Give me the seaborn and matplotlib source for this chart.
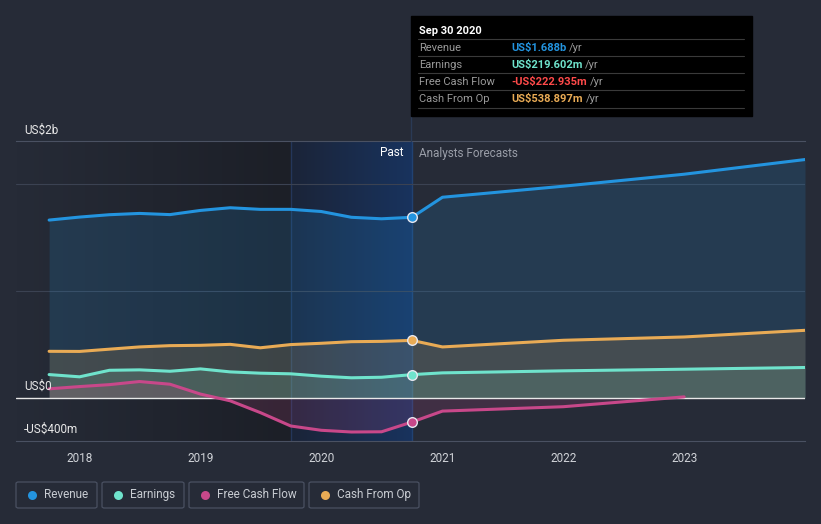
import numpy as np
import pandas as pd
import seaborn as sns
import matplotlib.pyplot as plt
import matplotlib.dates as mdates
from matplotlib.patches import Rectangle, FancyBboxPatch
from matplotlib.lines import Line2D

# data (US$m), quarterly past + annual analyst forecasts
past_dates = ["2017-09-30", "2017-12-31", "2018-03-31", "2018-06-30", "2018-09-30",
              "2018-12-31", "2019-03-31", "2019-06-30", "2019-09-30", "2019-12-31",
              "2020-03-31", "2020-06-30", "2020-09-30"]
fcst_dates = ["2020-12-31", "2021-12-31", "2022-12-31", "2023-12-31"]

revenue_past = [1662, 1690, 1712, 1724, 1713, 1752, 1777, 1762, 1762, 1742, 1688, 1674, 1688]
revenue_fcst = [1875, 1978, 2090, 2227]
earnings_past = [220, 199, 260, 264, 251, 273, 245, 233, 227, 205, 190, 195, 219.6]
earnings_fcst = [236, 255, 270, 286]
fcf_past = [87, 108, 126, 155, 130, 38, -25, -135, -260, -300, -316, -314, -222.9]
fcf_fcst = [-121, -80, 12]
cfo_past = [437, 436, 457, 478, 490, 493, 502, 470, 500, 512, 527, 530, 538.9]
cfo_fcst = [478, 540, 571, 633]

series_names = ["Revenue", "Earnings", "Free Cash Flow", "Cash From Op"]
series_colors = ["#2394df", "#6fe3cc", "#c8488a", "#e9ab55"]
tooltip_values = ["US$1.688b", "US$219.602m", "-US$222.935m", "US$538.897m"]
tooltip_colors = ["#2394df", "#6fe3cc", "#ff4a4a", "#e9ab55"]

past = [revenue_past, earnings_past, fcf_past, cfo_past]
fcst = [revenue_fcst, earnings_fcst, fcf_fcst, cfo_fcst]

rows = []
for name, p, f in zip(series_names, past, fcst):
    dates = past_dates + fcst_dates[:len(f)]
    for d, v in zip(dates, p + f):
        rows.append({"series": name, "date": pd.Timestamp(d), "value": v})
df = pd.DataFrame(rows)

BG = "#262b37"
sns.set_style("dark", {"axes.facecolor": BG, "figure.facecolor": BG})
plt.rcParams["font.family"] = ["Roboto", "DejaVu Sans"]

W, H = 821, 524
fig = plt.figure(figsize=(W / 100, H / 100), dpi=100)
ax = fig.add_axes([16 / W, 83 / H, 789 / W, 300 / H])
ax.set_facecolor(BG)

def fx(px):
    return px / W

def fy(py):
    return 1 - py / H

x_left = mdates.date2num(pd.Timestamp("2017-06-22"))
x_right = mdates.date2num(pd.Timestamp("2023-12-31"))
x_hl = mdates.date2num(pd.Timestamp("2019-09-30"))
x_now = mdates.date2num(pd.Timestamp("2020-09-30"))

# background gradients for the past
g1 = np.linspace(0, 1, 200)
c_a, c_b = np.array([0x26, 0x2b, 0x37]) / 255, np.array([0x1c, 0x1f, 0x27]) / 255
grad1 = (c_a[None, :] * (1 - g1[:, None]) + c_b[None, :] * g1[:, None])[None, :, :]
ax.imshow(grad1, extent=[x_left, x_hl, -400, 2400], aspect="auto", zorder=0.5,
          interpolation="nearest")
c_c, c_d = np.array([0x1b, 0x24, 0x38]) / 255, np.array([0x18, 0x33, 0x5e]) / 255
grad2 = (c_c[None, :] * (1 - g1[:, None]) + c_d[None, :] * g1[:, None])[None, :, :]
ax.imshow(grad2, extent=[x_hl, x_now, -400, 2400], aspect="auto", zorder=0.5,
          interpolation="nearest")
ax.axvline(x_hl, color="#24365a", lw=1, zorder=0.6)
ax.axvline(x_now, color="#214272", lw=1, zorder=0.6)

for name, col in zip(series_names, series_colors):
    s = df[df["series"] == name]
    ax.fill_between(s["date"], s["value"], 0, color=col, alpha=0.16, lw=0, zorder=1)

ax.axhline(1000, color="#3b4252", lw=0.8, zorder=0.8)
ax.axhline(2000, color="#3b4252", lw=0.8, zorder=0.8)
ax.axhline(0, color="#e8e8e8", lw=1.0, zorder=2)

sns.lineplot(data=df, x="date", y="value", hue="series", hue_order=series_names,
             palette=series_colors, linewidth=2.2, legend=False, ax=ax, zorder=3)

now_vals = [revenue_past[-1], earnings_past[-1], fcf_past[-1], cfo_past[-1]]
for v, col in zip(now_vals, series_colors):
    ax.scatter([x_now], [v], s=48, color=col, edgecolor="#e8e8f0", linewidth=1, zorder=4)

ax.set_xlim(x_left, x_right)
ax.set_ylim(-400, 2400)
ax.set_xlabel("")
ax.set_ylabel("")
ax.set_yticks([])
ax.xaxis.set_major_locator(mdates.YearLocator())
ax.xaxis.set_major_formatter(mdates.DateFormatter("%Y"))
ax.tick_params(axis="x", colors="#4a5162", labelcolor="#d0d3d8", labelsize=8.5,
               length=3, width=0.8, pad=5)
for side in ["left", "right"]:
    ax.spines[side].set_visible(False)
ax.spines["top"].set_color("#4a5162")
ax.spines["bottom"].set_color("#4a5162")
ax.grid(False)

# present marker line above the plot, up to the tooltip
fig.add_artist(Line2D([fx(411), fx(411)], [fy(116), fy(141)], color="#2a3a55", lw=1))

# y labels
fig.text(fx(24), fy(130), "US$2b", color="#e8e8e8", fontsize=8.5, va="center")
fig.text(fx(24), fy(386), "US$0", color="#e8e8e8", fontsize=8.5, va="center")
fig.text(fx(24), fy(429), "-US$400m", color="#e8e8e8", fontsize=8.5, va="center")
fig.text(fx(403), fy(153), "Past", color="#ffffff", fontsize=8.5, va="center", ha="right")
fig.text(fx(419), fy(153), "Analysts Forecasts", color="#9a9ea8", fontsize=8.5, va="center")

# tooltip
fig.add_artist(Rectangle((fx(411), fy(116)), 341 / W, 100 / H, color="#000000", zorder=5))
fig.text(fx(419), fy(31), "Sep 30 2020", color="#ffffff", fontsize=8, weight="bold",
         va="center", zorder=6)
row_y = [48, 65, 82, 99]
for i, (name, val, col) in enumerate(zip(series_names, tooltip_values, tooltip_colors)):
    fig.add_artist(Line2D([fx(418), fx(744)], [fy(row_y[i] - 9), fy(row_y[i] - 9)],
                          color="#3a3a3a", lw=0.8, zorder=6))
    fig.text(fx(419), fy(row_y[i]), name, color="#9a9a9a", fontsize=8, va="center", zorder=6)
    t = fig.text(fx(511), fy(row_y[i]), val, color=col, fontsize=8, weight="bold",
                 va="center", zorder=6)
    fig.canvas.draw()
    bb = t.get_window_extent()
    fig.text(bb.x1 / W + 3 / W, fy(row_y[i]), "/yr", color="#9a9a9a", fontsize=8,
             va="center", zorder=6)
fig.add_artist(Line2D([fx(418), fx(744)], [fy(108), fy(108)], color="#3a3a3a", lw=0.8, zorder=6))

# legend boxes
boxes = [(16, 97), (102, 184), (189, 304), (309, 419)]
for (x0, x1), name, col in zip(boxes, series_names, series_colors):
    fig.add_artist(FancyBboxPatch((fx(x0), fy(508)), (x1 - x0) / W, 26 / H,
                                  boxstyle="round,pad=0,rounding_size=0.003",
                                  facecolor="none", edgecolor="#4a5162", lw=0.9))
    fig.add_artist(Line2D([fx(x0 + 16)], [fy(494.5)], marker="o", markersize=6.5,
                          color=col, markeredgewidth=0))
    fig.text(fx(x0 + 28), fy(494.5), name, color="#c8ccd2", fontsize=8.5, va="center")

fig.savefig("out.png", dpi=100, facecolor=BG)
